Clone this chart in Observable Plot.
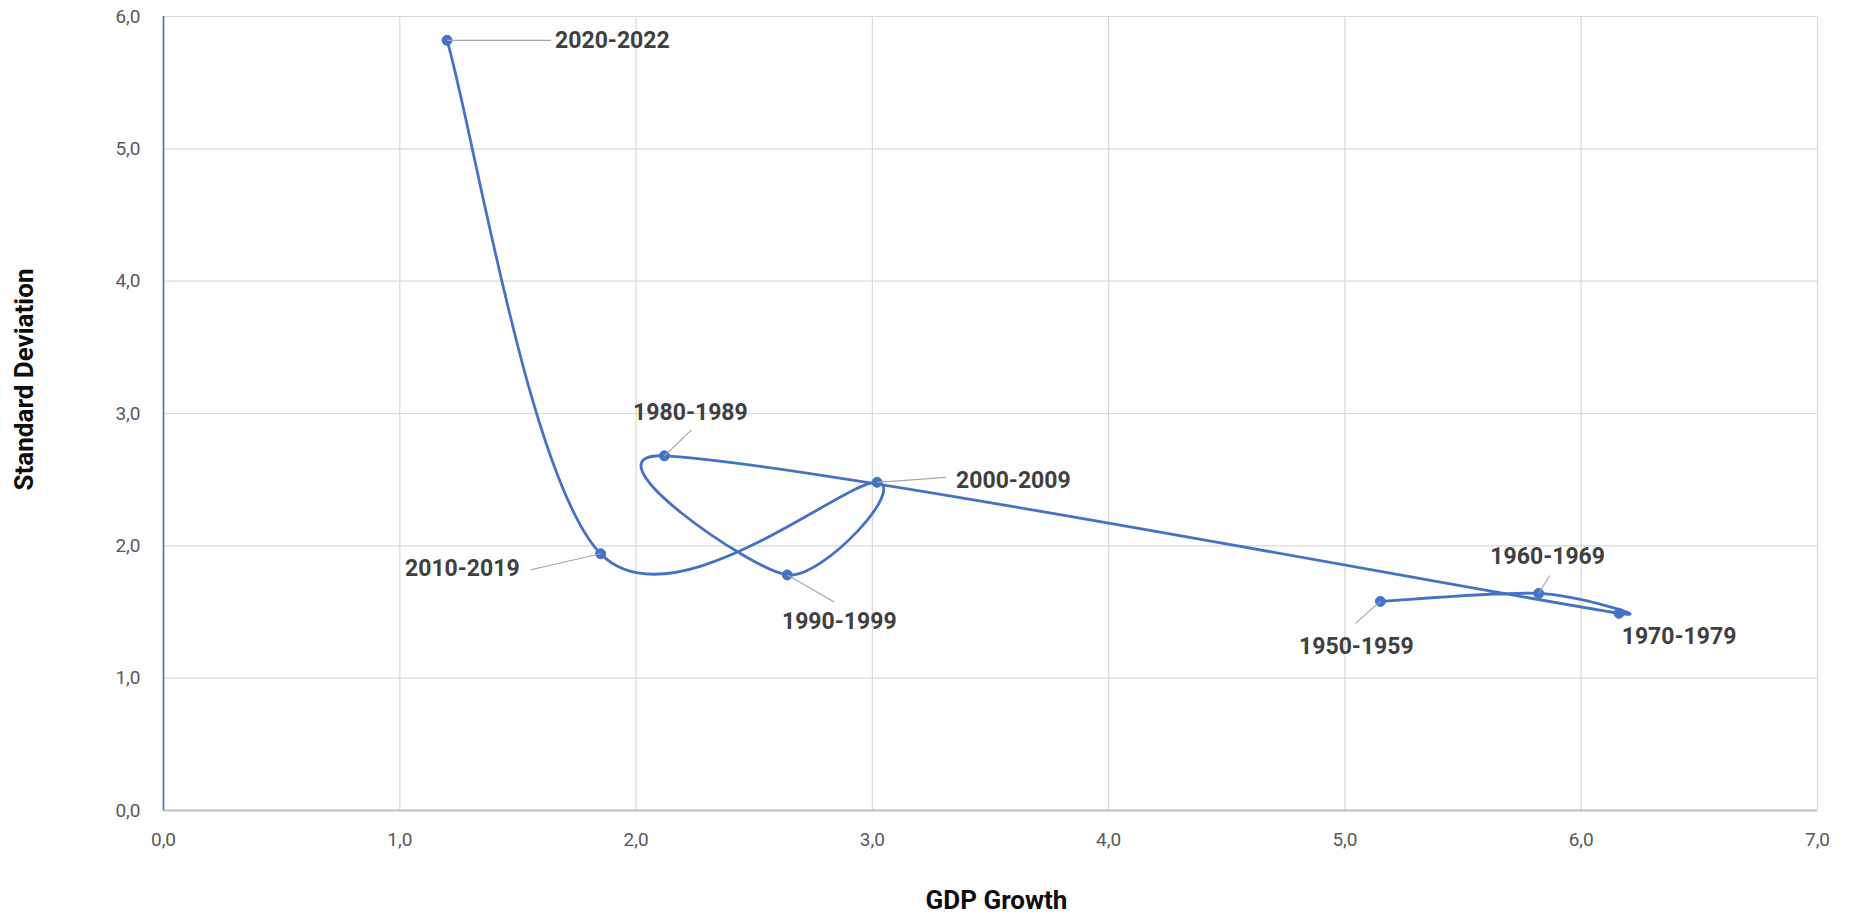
<!DOCTYPE html>
<html>
<head>
<meta charset="utf-8">
<script src="https://cdn.jsdelivr.net/npm/d3@7"></script>
<script src="https://cdn.jsdelivr.net/npm/@observablehq/plot@0.6"></script>
<style>
  html, body { margin: 0; padding: 0; background: #ffffff; }
  #chart svg { display: block; }
</style>
</head>
<body>
<div id="chart"></div>
<script>
// Decade averages: GDP growth vs. its standard deviation
const periods   = ["1950-1959", "1960-1969", "1970-1979", "1980-1989", "1990-1999", "2000-2009", "2010-2019", "2020-2022"];
const gdpGrowth = [5.15, 5.82, 6.16, 2.12, 2.64, 3.02, 1.85, 1.20];
const stdDev    = [1.58, 1.64, 1.49, 2.68, 1.78, 2.48, 1.94, 5.82];

const xTicks = [0, 1, 2, 3, 4, 5, 6, 7];
const yTicks = [0, 1, 2, 3, 4, 5, 6];

const data = periods.map((period, i) => ({period, growth: gdpGrowth[i], sd: stdDev[i]}));

// Chart geometry
const W = 1855, H = 917;
const M = {top: 16, right: 38, bottom: 107, left: 163};
const xDomain = [0, 7], yDomain = [0, 6];
const xPerPx = (xDomain[1] - xDomain[0]) / (W - M.left - M.right);
const yPerPx = (yDomain[1] - yDomain[0]) / (H - M.top - M.bottom);

// Data label placement (pixel offsets from each point) and leader-line ends
const labelLayout = {
  "1950-1959": {dx: -24, dy: 45, anchor: "middle", leader: [-25, 22]},
  "1960-1969": {dx: 9,   dy: -37, anchor: "middle", leader: [11, -18]},
  "1970-1979": {dx: 60,  dy: 23, anchor: "middle", leader: null},
  "1980-1989": {dx: 26,  dy: -43, anchor: "middle", leader: [27, -26]},
  "1990-1999": {dx: 52,  dy: 47, anchor: "middle", leader: [47, 27]},
  "2000-2009": {dx: 79,  dy: -2, anchor: "start", leader: [69, -5]},
  "2010-2019": {dx: -81, dy: 15, anchor: "end", leader: [-70, 16]},
  "2020-2022": {dx: 108, dy: 0, anchor: "start", leader: [104, 0]}
};

// Spreadsheet-style smoothed line: cubic Bézier segments with Catmull-Rom
// tangents (1/6 of the neighbour chord), each handle capped at a fraction
// of the segment it belongs to so short segments do not overshoot wildly.
function smoothSpreadsheet(context, cap = 0.5) {
  let pts = [];
  const dist = (a, b) => Math.hypot(a[0] - b[0], a[1] - b[1]);
  return {
    areaStart() {}, areaEnd() {},
    lineStart() { pts = []; },
    point(x, y) { pts.push([+x, +y]); },
    lineEnd() {
      const n = pts.length;
      if (!n) return;
      context.moveTo(pts[0][0], pts[0][1]);
      for (let i = 0; i < n - 1; i++) {
        const p0 = pts[Math.max(i - 1, 0)], p1 = pts[i], p2 = pts[i + 1], p3 = pts[Math.min(i + 2, n - 1)];
        const d12 = dist(p1, p2), d02 = dist(p0, p2), d13 = dist(p1, p3);
        let f1 = 1 / 6, f2 = 1 / 6;
        if (d02 * f1 > d12 * cap) f1 = d12 * cap / d02;
        if (d13 * f2 > d12 * cap) f2 = d12 * cap / d13;
        context.bezierCurveTo(
          p1[0] + (p2[0] - p0[0]) * f1, p1[1] + (p2[1] - p0[1]) * f1,
          p2[0] - (p3[0] - p1[0]) * f2, p2[1] - (p3[1] - p1[1]) * f2,
          p2[0], p2[1]
        );
      }
    }
  };
}

const comma = d => d.toFixed(1).replace(".", ",");
const blue = "#4472C4";

const leaderMarks = data
  .filter(d => labelLayout[d.period].leader)
  .map(d => {
    const [lx, ly] = labelLayout[d.period].leader;
    return Plot.link([d], {
      x1: "growth", y1: "sd",
      x2: v => v.growth + lx * xPerPx,
      y2: v => v.sd - ly * yPerPx,
      stroke: "#a6a6a6", strokeWidth: 1.2
    });
  });

const labelMarks = data.map(d => {
  const L = labelLayout[d.period];
  return Plot.text([d], {
    x: "growth", y: "sd", text: "period",
    dx: L.dx, dy: L.dy, textAnchor: L.anchor, lineAnchor: "middle",
    fontSize: 23, fontWeight: "bold", fill: "#404040"
  });
});

const chart = Plot.plot({
  width: W,
  height: H,
  marginTop: M.top,
  marginRight: M.right,
  marginBottom: M.bottom,
  marginLeft: M.left,
  style: {fontFamily: "Roboto, 'Noto Sans', sans-serif", background: "#ffffff"},
  x: {domain: xDomain},
  y: {domain: yDomain},
  marks: [
    Plot.gridX(xTicks, {stroke: "#d9d9d9", strokeOpacity: 1, strokeWidth: 1.2}),
    Plot.gridY(yTicks, {stroke: "#d9d9d9", strokeOpacity: 1, strokeWidth: 1.2}),
    Plot.ruleY([0], {stroke: "#bfbfbf", strokeWidth: 2.2}),
    Plot.ruleX([0], {stroke: blue, strokeWidth: 1.6}),
    Plot.axisX(xTicks, {tickSize: 0, tickPadding: 22, tickFormat: comma, fontSize: 19, fill: "#595959", label: null}),
    Plot.axisY(yTicks, {tickSize: 0, tickPadding: 23, tickFormat: comma, fontSize: 19, fill: "#595959", label: null}),
    Plot.line(data, {x: "growth", y: "sd", curve: ctx => smoothSpreadsheet(ctx), stroke: blue, strokeWidth: 2.8}),
    Plot.dot(data, {x: "growth", y: "sd", r: 5, fill: blue, stroke: blue, strokeWidth: 1}),
    ...leaderMarks,
    ...labelMarks,
    Plot.text(["GDP Growth"], {frameAnchor: "bottom", dx: 6, dy: 90, fontSize: 26, fontWeight: "bold", fill: "#0d0d0d", textAnchor: "middle", lineAnchor: "middle"}),
    Plot.text(["Standard Deviation"], {frameAnchor: "left", dx: -139, dy: -34, rotate: -90, fontSize: 26, fontWeight: "bold", fill: "#0d0d0d", textAnchor: "middle", lineAnchor: "middle"})
  ]
});

document.getElementById("chart").appendChild(chart);
</script>
</body>
</html>
